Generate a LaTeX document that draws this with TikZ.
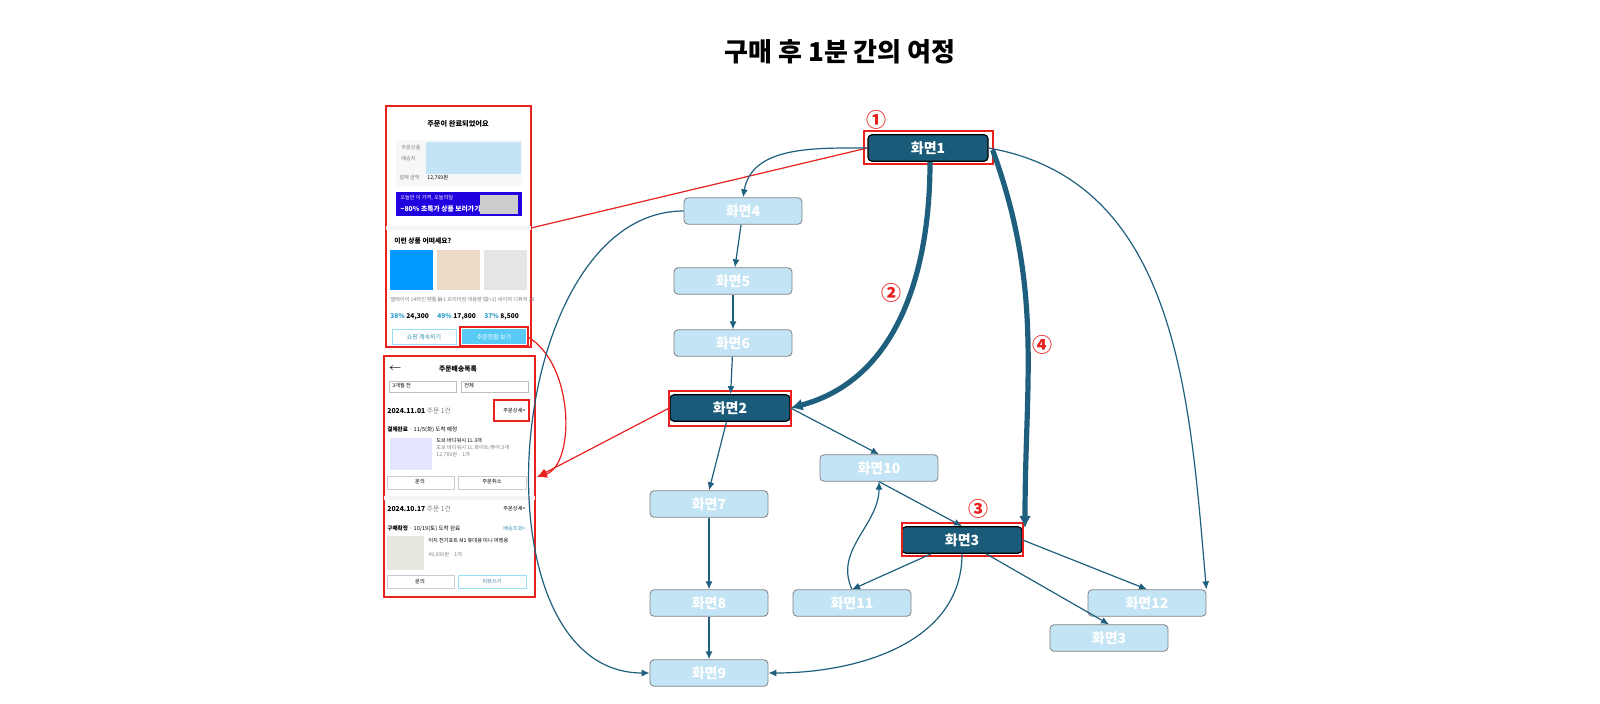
\documentclass[tikz,border=0pt]{standalone}
\usepackage{fontspec}
\setmainfont{Noto Sans CJK KR}
\usetikzlibrary{arrows.meta}
\definecolor{darkscr}{HTML}{1A5B7A}
\definecolor{lightscr}{HTML}{C2E4F4}
\definecolor{edgecol}{HTML}{1E5F7E}
\definecolor{mark}{HTML}{E8201E}
\tikzstyle{none}=[inner sep=0pt]
\tikzstyle{main}=[rectangle,rounded corners=2pt,fill=darkscr,draw=black,line width=0.6pt,minimum width=60pt,minimum height=12pt,text=white,font=\bfseries\fontsize{7}{8}\selectfont]
\tikzstyle{sub}=[rectangle,rounded corners=2pt,fill=lightscr,draw=gray,line width=0.4pt,minimum width=59pt,minimum height=12pt,text=white,font=\bfseries\fontsize{7}{8}\selectfont]
\tikzstyle{flow}=[-{Latex[length=4pt,width=3.5pt]},draw=edgecol,line width=0.6pt]
\tikzstyle{heavy}=[-{Latex[length=6pt,width=6pt]},draw=edgecol,line width=2.6pt]
\tikzstyle{focus}=[draw=mark,line width=0.6pt]
\tikzstyle{num}=[text=mark,font=\bfseries\fontsize{10}{10}\selectfont,inner sep=0pt]
\tikzstyle{tiny}=[font=\fontsize{2.6}{3}\selectfont,inner sep=0pt,anchor=west]
\begin{document}
\begin{tikzpicture}[x=0.5pt,y=-0.5pt]
	\node [none,font=\bfseries\fontsize{13}{14}\selectfont] (title) at (840,52) {구매 후 1분 간의 여정};
	% screens
	\node [main] (s1) at (928,148) {화면1};
	\node [sub] (s4) at (743,211) {화면4};
	\node [sub] (s5) at (733,281) {화면5};
	\node [sub] (s6) at (733,343) {화면6};
	\node [main,minimum height=13pt] (s2) at (730,408) {화면2};
	\node [sub] (s10) at (879,468) {화면10};
	\node [sub] (s7) at (709,504) {화면7};
	\node [main] (s3) at (962,540) {화면3};
	\node [sub] (s11) at (852,603) {화면11};
	\node [sub] (s8) at (709,603) {화면8};
	\node [sub] (s12) at (1147,603) {화면12};
	\node [sub] (s3b) at (1109,638) {화면3};
	\node [sub] (s9) at (709,673) {화면9};
	% highlight boxes and numbers
	\draw [focus] (864,131) rectangle (993,164);
	\draw [focus] (669,391) rectangle (791,426);
	\draw [focus] (902,523) rectangle (1023,556);
	\node [num] (n1) at (876,120) {①};
	\node [num] (n2) at (891,293) {②};
	\node [num] (n3) at (978,509) {③};
	\node [num] (n4) at (1042,345) {④};
	% app screenshots
	\draw [focus,fill=white] (386,106) rectangle (531,347);
	\node [none,font=\bfseries\fontsize{3.6}{4}\selectfont] (t1) at (458,124) {주문이 완료되었어요};
	\fill [black!3] (396,140) rectangle (522,186);
	\fill [lightscr] (426,142) rectangle (521,174);
	\node [tiny,text=gray] (t2) at (401,148) {주문상품};
	\node [tiny,text=gray] (t3) at (401,159) {배송지};
	\node [tiny,text=gray] (t4) at (399,178) {결제 금액};
	\node [tiny] (t5) at (427,178) {12,769원};
	\fill [blue!75!violet] (396,192) rectangle (522,216);
	\node [tiny,text=white] (t6) at (400,198) {오늘만 이 가격, 오늘의딜};
	\node [tiny,text=white,font=\bfseries\fontsize{3.4}{4}\selectfont] (t7) at (400,209) {\textasciitilde80\% 초특가 상품 보러가기};
	\fill [gray!40] (480,195) rectangle (518,214);
	\fill [black!4] (386,226) rectangle (531,230);
	\node [tiny,font=\bfseries\fontsize{3.4}{4}\selectfont] (t8) at (394,241) {이런 상품 어떠세요?};
	\fill [blue!40!cyan] (390,250) rectangle (433,290);
	\fill [brown!30] (437,250) rectangle (480,290);
	\fill [gray!20] (484,250) rectangle (527,290);
	\node [tiny,text=gray] (d1) at (390,300) {엘레이어 14라인 펜툴 등};
	\node [tiny,text=gray] (d2) at (437,300) {1+1 프리미엄 대용량 디};
	\node [tiny,text=gray] (d3) at (484,300) {[2+1] 네이처 디퓨저 20};
	\node [tiny,text=cyan!80!black,font=\bfseries\fontsize{3.3}{4}\selectfont] (p1) at (390,317) {38\% \textcolor{black}{24,300}};
	\node [tiny,text=cyan!80!black,font=\bfseries\fontsize{3.3}{4}\selectfont] (p2) at (437,317) {49\% \textcolor{black}{17,800}};
	\node [tiny,text=cyan!80!black,font=\bfseries\fontsize{3.3}{4}\selectfont] (p3) at (484,317) {37\% \textcolor{black}{8,500}};
	\draw [cyan!40] (392,329) rectangle (456,344);
	\node [none,font=\fontsize{3}{3}\selectfont,text=cyan!70!black] (b1) at (424,337) {쇼핑 계속하기};
	\fill [cyan!65] (462,329) rectangle (526,344);
	\node [none,font=\fontsize{3}{3}\selectfont,text=white] (b2) at (494,337) {주문현황 보기};
	\draw [focus,line width=0.9pt] (460,327) rectangle (528,346);
	\draw [focus,fill=white] (384,356) rectangle (535,597);
	\node [none,font=\bfseries\fontsize{3.4}{4}\selectfont] (t9) at (458,369) {주문배송목록};
	\node [tiny,font=\fontsize{5}{5}\selectfont] (t10) at (388,369) {$\leftarrow$};
	\draw [gray!50] (389,381) rectangle (456,392);
	\draw [gray!50] (461,381) rectangle (528,392);
	\node [tiny] (t11) at (392,386) {3개월 전};
	\node [tiny] (t12) at (464,386) {전체};
	\node [tiny,font=\bfseries\fontsize{3.4}{4}\selectfont] (t13) at (387,411) {2024.11.01 \textcolor{gray}{\mdseries 주문 1건}};
	\node [tiny] (t14) at (503,411) {주문상세>};
	\draw [focus,line width=0.9pt] (494,400) rectangle (529,421);
	\node [tiny,font=\bfseries\fontsize{2.8}{3}\selectfont] (t15) at (387,430) {결제완료 \mdseries · 11/5(화) 도착 예정};
	\fill [blue!10] (390,438) rectangle (432,470);
	\node [tiny] (t16) at (436,441) {도브 바디워시 1L 3개};
	\node [tiny,text=gray] (t17) at (436,448) {도브 바디워시 1L 화이트/퓨어 3개};
	\node [tiny,text=gray] (t18) at (436,455) {12,769원 · 1개};
	\draw [gray!40] (387,476) rectangle (454,489);
	\draw [gray!40] (458,476) rectangle (526,489);
	\node [none,font=\fontsize{2.6}{3}\selectfont] (t19) at (420,482) {문의};
	\node [none,font=\fontsize{2.6}{3}\selectfont] (t20) at (492,482) {주문취소};
	\fill [black!4] (384,496) rectangle (535,500);
	\node [tiny,font=\bfseries\fontsize{3.4}{4}\selectfont] (t21) at (387,509) {2024.10.17 \textcolor{gray}{\mdseries 주문 1건}};
	\node [tiny] (t22) at (503,509) {주문상세>};
	\node [tiny,font=\bfseries\fontsize{2.8}{3}\selectfont] (t23) at (387,529) {구매확정 \mdseries · 10/19(토) 도착 완료};
	\node [tiny,text=cyan!70!black] (t24) at (503,529) {배송조회>};
	\fill [yellow!15!gray!25] (387,536) rectangle (424,570);
	\node [tiny] (t25) at (428,541) {이지 전기포트 M1 휴대용 미니 여행용};
	\node [tiny,text=gray] (t26) at (428,555) {49,900원 · 1개};
	\draw [gray!40] (387,575) rectangle (454,588);
	\draw [cyan!40] (458,575) rectangle (526,588);
	\node [none,font=\fontsize{2.6}{3}\selectfont] (t27) at (420,582) {문의};
	\node [none,font=\fontsize{2.6}{3}\selectfont,text=cyan!60!black] (t28) at (492,582) {리뷰쓰기};
	\coordinate (shot1) at (531,228);
	\coordinate (btn) at (528,337);
	\coordinate (shot2) at (537,477);
	% red links
	\draw [focus] (shot1) -- (s1.west);
	\draw [focus,-{Latex[length=5pt,width=4pt]}] (btn) .. controls (575,365) and (575,465) .. (shot2);
	\draw [focus,-{Latex[length=5pt,width=4pt]}] (s2.west) -- (shot2);
	% flows
	\draw [flow] (s1.west) to[out=180,in=80] (s4.north);
	\draw [heavy] (930,162) to[out=-90,in=15] (s2.east);
	\draw [heavy] (s1.east) ++(4,2) to[out=-70,in=90] (1025,528);
	\draw [flow] (s1.east) to[out=-10,in=95] (s12.north east);
	\draw [flow] (s4.west) to[out=180,in=180] (s9.west);
	\draw [flow] (s4) -- (s5);
	\draw [flow] (s5) -- (s6);
	\draw [flow] (s6) -- (s2);
	\draw [flow] (s2) -- (s7.north);
	\draw [flow] (s2.east) -- (s10.north);
	\draw [flow] (s10.south) -- (s3.north);
	\draw [flow] (s3) -- (s11.north);
	\draw [flow] (s11.north) to[out=115,in=-90] (s10.south);
	\draw [flow] (s3.east) -- (s12.north);
	\draw [flow] (s3) -- (s3b.north);
	\draw [flow] (s3.south) to[out=-90,in=0] (s9.east);
	\draw [flow] (s7) -- (s8);
	\draw [flow] (s8) -- (s9);
	\pgfresetboundingbox
	\useasboundingbox (0,0) rectangle (1600,704);
\end{tikzpicture}
\end{document}
